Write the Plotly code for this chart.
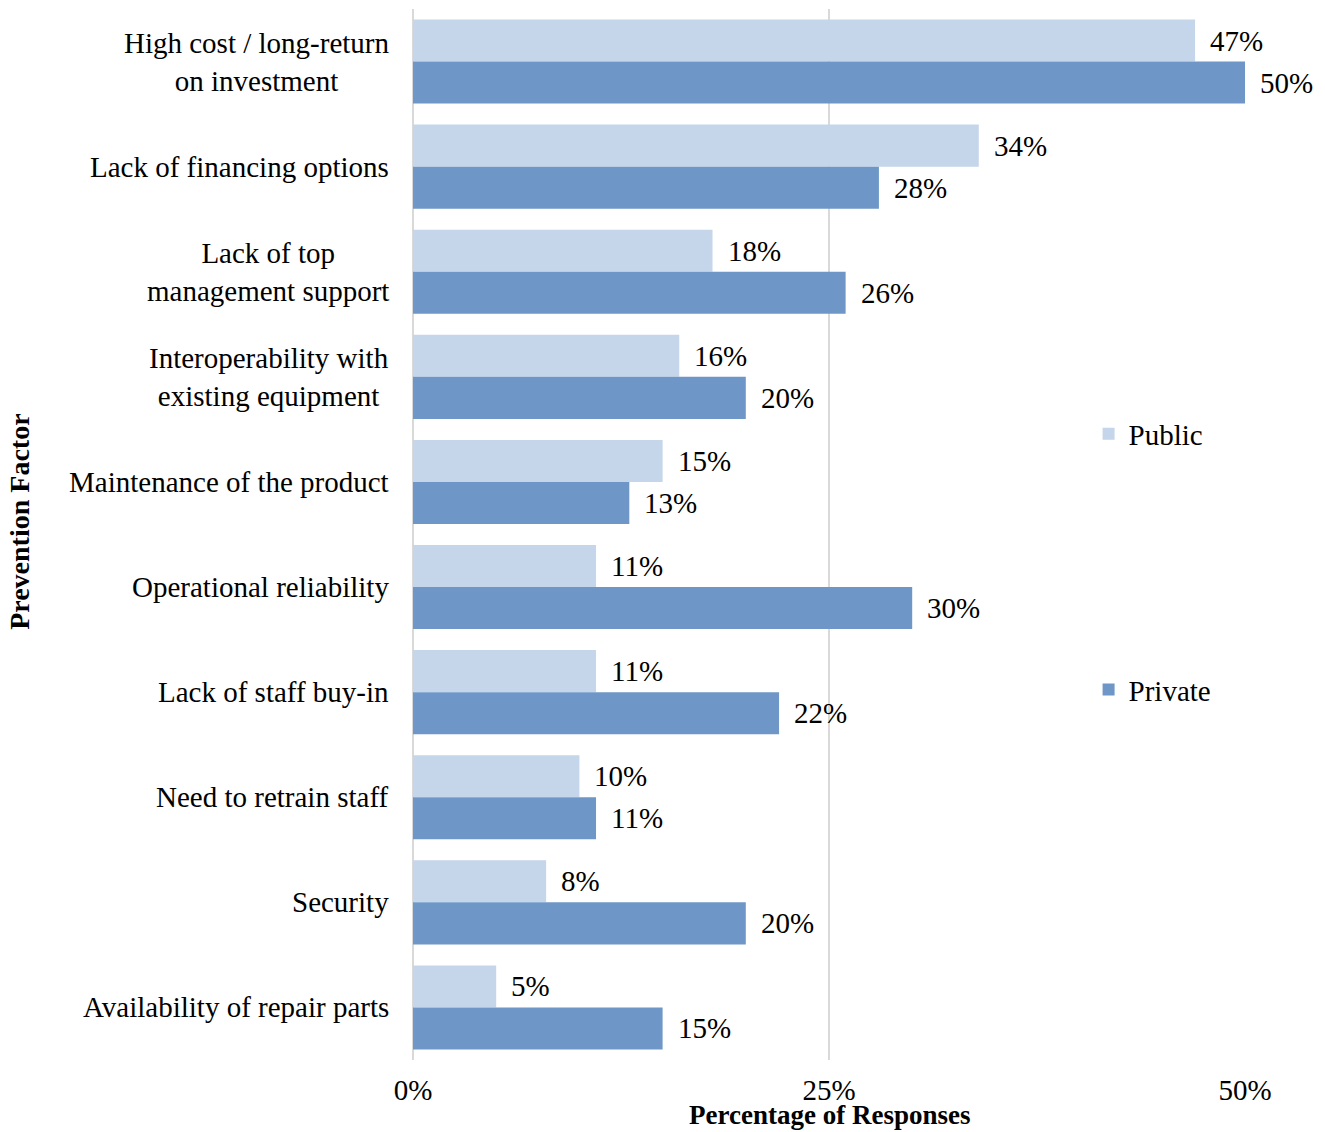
import plotly.graph_objects as go

# Survey results: share of respondents citing each factor that prevents adoption
factors = [
    "High cost / long-return<br>on investment",
    "Lack of financing options",
    "Lack of top<br>management support",
    "Interoperability with<br>existing equipment",
    "Maintenance of the product",
    "Operational reliability",
    "Lack of staff buy-in",
    "Need to retrain staff",
    "Security",
    "Availability of repair parts",
]
public_pct = [47, 34, 18, 16, 15, 11, 11, 10, 8, 5]
private_pct = [50, 28, 26, 20, 13, 30, 22, 11, 20, 15]
x_ticks = [0, 25, 50]
x_tick_labels = ["0%", "25%", "50%"]

FONT = "Liberation Serif, Times New Roman, serif"
PUBLIC_COLOR = "#C5D5EA"
PRIVATE_COLOR = "#6E97C7"
GRID = "#D9D9D9"

fig = go.Figure()
fig.add_trace(go.Bar(
    name="Public", y=list(range(len(factors))), x=public_pct, orientation="h",
    marker=dict(color=PUBLIC_COLOR, line=dict(width=0)), legendgroup="pub",
))
fig.add_trace(go.Bar(
    name="Private", y=list(range(len(factors))), x=private_pct, orientation="h",
    marker=dict(color=PRIVATE_COLOR, line=dict(width=0)), legendgroup="priv",
))

annotations = []
# value labels to the right of each bar
for i, (pu, pr) in enumerate(zip(public_pct, private_pct)):
    for val, off in ((pu, -0.2), (pr, 0.2)):
        annotations.append(dict(
            x=val, y=i + off, xref="x", yref="y", text=f"{val}%",
            showarrow=False, xanchor="left", yanchor="middle", xshift=13,
            font=dict(family=FONT, size=29, color="black"),
        ))
# category labels, lines centred within each label block
for i, name in enumerate(factors):
    annotations.append(dict(
        x=0, y=i, xref="paper", yref="y", text=name, showarrow=False,
        xanchor="right", yanchor="middle", align="center", xshift=-22,
        font=dict(family=FONT, size=29, color="black"),
    ))
# axis titles
annotations.append(dict(
    x=0.5, y=-0.0525, xref="paper", yref="paper", text="<b>Percentage of Responses</b>",
    showarrow=False, xanchor="center", yanchor="middle",
    font=dict(family=FONT, size=27, color="black"),
))
annotations.append(dict(
    x=-0.4724, y=0.512, xref="paper", yref="paper", text="<b>Prevention Factor</b>",
    showarrow=False, xanchor="center", yanchor="middle", textangle=-90,
    font=dict(family=FONT, size=28, color="black"),
))

fig.update_layout(
    width=1325, height=1132,
    margin=dict(l=413, r=80, t=8.5, b=71.5),
    paper_bgcolor="white", plot_bgcolor="white",
    barmode="group", bargap=0.2, bargroupgap=0,
    font=dict(family=FONT, size=29, color="black"),
    annotations=annotations,
    legend=dict(
        x=0.812, y=0.62, xanchor="left", yanchor="top",
        font=dict(family=FONT, size=29, color="black"),
        tracegroupgap=215, traceorder="grouped", itemwidth=30,
        bgcolor="rgba(0,0,0,0)",
    ),
    xaxis=dict(
        range=[0, 50], tickmode="array", tickvals=x_ticks, ticktext=x_tick_labels,
        showgrid=True, gridcolor=GRID, gridwidth=1.5,
        zeroline=True, zerolinecolor=GRID, zerolinewidth=1.5,
        showline=False, ticks="", ticklabelstandoff=10,
        tickfont=dict(family=FONT, size=29, color="black"),
        fixedrange=True,
    ),
    yaxis=dict(
        range=[len(factors) - 0.5, -0.5], showticklabels=False,
        showgrid=False, zeroline=False, showline=False, ticks="",
    ),
)

fig.write_html("out.html")
